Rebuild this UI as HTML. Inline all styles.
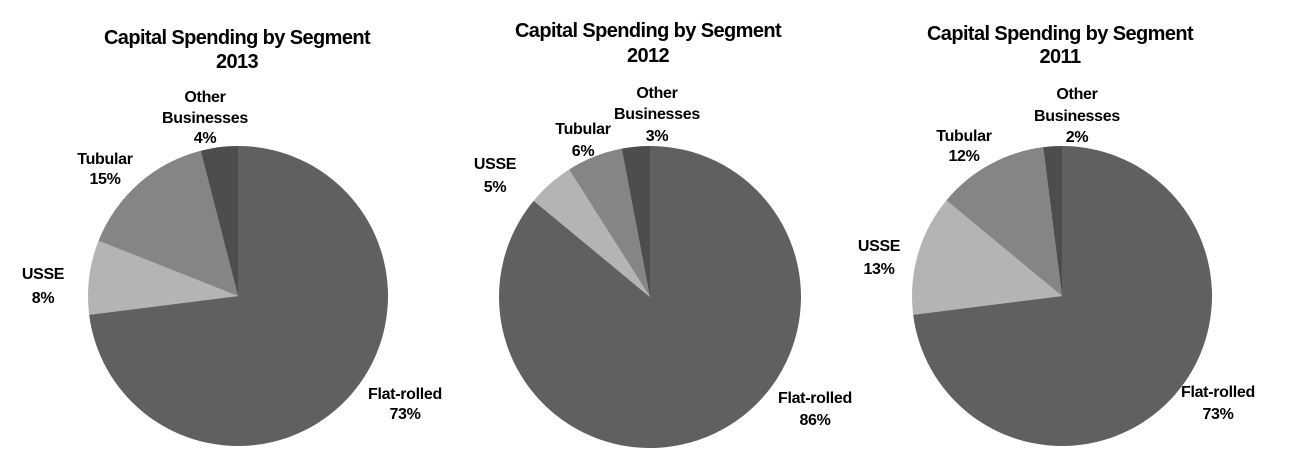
<!DOCTYPE html>
<html><head><meta charset="utf-8"><style>
body{margin:0;background:#fff;}
svg{display:block;font-family:"Liberation Sans",Arial,sans-serif;font-weight:bold;}
.t{font-size:20px;letter-spacing:-0.6px;}
.l{font-size:16px;letter-spacing:-0.3px;}
</style></head><body>
<svg id="c" width="1302" height="470" viewBox="0 0 1302 470"></svg>
<script>
const categories = ["Flat-rolled","USSE","Tubular","Other Businesses"];
const years = ["2013","2012","2011"];
const values2013 = [73,8,15,4];
const values2012 = [86,5,6,3];
const values2011 = [73,13,12,2];
const colors = ["#606060","#b4b4b4","#858585","#4d4d4d"];
const series=[values2013,values2012,values2011];
const layout=[
 {cx:238,cy:296,r:150,title:[237,37,61],labels:[[405,[393,413]],[43,[273,297]],[105,[158,178]],[205,[96,117,137]]]},
 {cx:650,cy:297,r:151,title:[648,30,55],labels:[[815,[397,419]],[495,[163,186]],[583,[128,150]],[657,[92,113,135]]]},
 {cx:1062,cy:296,r:150,title:[1060,33,56],labels:[[1218,[391,413]],[879,[245,268]],[964,[135,155]],[1077,[93,115,136]]]}
];
const NS="http://www.w3.org/2000/svg";
const svg=document.getElementById('c');
function mk(tag,attrs,parent){const e=document.createElementNS(NS,tag);for(const k in attrs)e.setAttribute(k,attrs[k]);parent.appendChild(e);return e;}
function pt(cx,cy,r,f){const a=f*2*Math.PI;return [cx+r*Math.sin(a),cy-r*Math.cos(a)];}
series.forEach((vals,i)=>{
 const L=layout[i];
 const g=mk('g',{},svg);
 
 
 const total=vals.reduce((a,b)=>a+b,0);
 let acc=0;
 vals.forEach((v,j)=>{
  const f0=acc/total,f1=(acc+v)/total;acc+=v;
  const p0=pt(L.cx,L.cy,L.r,f0),p1=pt(L.cx,L.cy,L.r,f1);
  const large=(f1-f0)>0.5?1:0;
  const p=mk('path',{d:`M${L.cx},${L.cy}L${p0[0]},${p0[1]}A${L.r},${L.r} 0 ${large} 1 ${p1[0]},${p1[1]}Z`,fill:colors[j]},g);
  
  
 });
 const t=mk('text',{class:'t','text-anchor':'middle',x:L.title[0],y:L.title[1]+7},g);
 
 
 t.innerHTML=`<tspan x="${L.title[0]}">Capital Spending by Segment</tspan><tspan x="${L.title[0]}" y="${L.title[2]+7}">${years[i]}</tspan>`;
 categories.forEach((c,j)=>{
  const lb=L.labels[j];
  const lines=c==="Other Businesses"?["Other","Businesses",vals[j]+"%"]:[c,vals[j]+"%"];
  const tx=mk('text',{class:'l','text-anchor':'middle'},g);
  
  
  lines.forEach((s,k)=>{const ts=mk('tspan',{x:lb[0],y:lb[1][k]+6},tx);ts.textContent=s;});
 });
});
</script>
</body></html>
